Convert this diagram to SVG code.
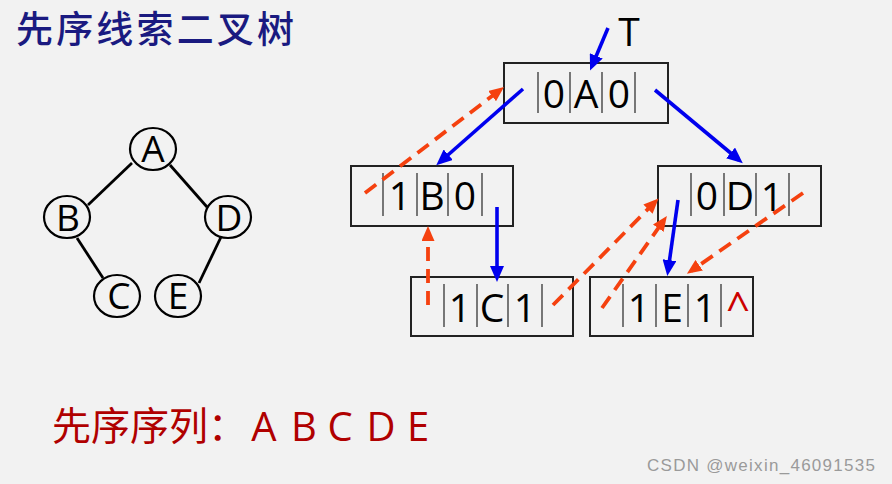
<svg xmlns="http://www.w3.org/2000/svg" width="892" height="484" viewBox="0 0 892 484">
<style>
.cjk{font-family:"Noto Sans CJK SC","Noto Sans",sans-serif}
.lat{font-family:"Open Sans","Noto Sans","DejaVu Sans",sans-serif}
.circ{fill:none;stroke:#000;stroke-width:2.2}
.edge{stroke:#000;stroke-width:2.8;fill:none}
.tl{font-size:37px;fill:#000;text-anchor:middle}
.box{fill:none;stroke:#222;stroke-width:2}
.bar{stroke:#333;stroke-width:1.3}
.bt{font-size:39px;fill:#000;text-anchor:middle}
.blue{stroke:#0000ee;stroke-width:3.6;fill:none;marker-end:url(#ab)}
.red{stroke:#f5410f;stroke-width:3.8;fill:none;stroke-dasharray:14 8;marker-end:url(#ar)}
</style>
<defs>
<marker id="ab" markerUnits="userSpaceOnUse" markerWidth="16" markerHeight="14" refX="11" refY="7" orient="auto"><path d="M0,0 L16,7 L0,14 z" fill="#0000ee"/></marker>
<marker id="ar" markerUnits="userSpaceOnUse" markerWidth="15" markerHeight="13" refX="10" refY="6.5" orient="auto"><path d="M0,0 L15,6.5 L0,13 z" fill="#f5410f"/></marker>
</defs>
<rect width="892" height="484" fill="#f2f2f2"/>
<text class="cjk" x="16" y="43" font-size="37" font-weight="500" fill="#1a1a80" textLength="278">先序线索二叉树</text>

<g id="tree">
<g id="tree-edges">
<line class="edge" x1="132" y1="163" x2="88" y2="205"/>
<line class="edge" x1="170" y1="165" x2="207" y2="207"/>
<line class="edge" x1="77" y1="238" x2="103" y2="278"/>
<line class="edge" x1="221" y1="237" x2="199" y2="283"/>
</g>
<g id="tA"><ellipse class="circ" cx="153" cy="149" rx="23" ry="21"/><text class="lat tl" x="153" y="162">A</text></g>
<g id="tB"><ellipse class="circ" cx="67" cy="217" rx="23" ry="21"/><text class="lat tl" x="68" y="231">B</text></g>
<g id="tD"><ellipse class="circ" cx="228" cy="217" rx="23" ry="21"/><text class="lat tl" x="229" y="231">D</text></g>
<g id="tC"><ellipse class="circ" cx="117" cy="296" rx="23" ry="21"/><text class="lat tl" x="119" y="309">C</text></g>
<g id="tE"><ellipse class="circ" cx="178" cy="296" rx="23" ry="21"/><text class="lat tl" x="178" y="309">E</text></g>
</g>

<text class="lat" x="629" y="46" font-size="39" text-anchor="middle" fill="#000">T</text>

<g id="nA">
<rect class="box" x="504" y="63" width="164" height="60"/>
<line class="bar" x1="538" y1="72" x2="538" y2="113"/><line class="bar" x1="570" y1="72" x2="570" y2="113"/><line class="bar" x1="602" y1="72" x2="602" y2="113"/><line class="bar" x1="635" y1="72" x2="635" y2="113"/>
<text class="lat bt" x="554" y="108">0</text><text class="lat bt" x="586" y="108">A</text><text class="lat bt" x="619" y="108">0</text>
</g>
<g id="nB">
<rect class="box" x="351" y="166" width="162" height="60"/>
<line class="bar" x1="383" y1="173" x2="383" y2="216"/><line class="bar" x1="417" y1="173" x2="417" y2="216"/><line class="bar" x1="448" y1="173" x2="448" y2="216"/><line class="bar" x1="482" y1="173" x2="482" y2="216"/>
<text class="lat bt" x="400" y="210">1</text><text class="lat bt" x="432" y="210">B</text><text class="lat bt" x="465" y="210">0</text>
</g>
<g id="nD">
<rect class="box" x="658" y="166" width="163" height="60"/>
<line class="bar" x1="691" y1="173" x2="691" y2="216"/><line class="bar" x1="724" y1="173" x2="724" y2="216"/><line class="bar" x1="756" y1="173" x2="756" y2="216"/><line class="bar" x1="789" y1="173" x2="789" y2="216"/>
<text class="lat bt" x="707" y="210">0</text><text class="lat bt" x="740" y="210">D</text><text class="lat bt" x="772" y="211">1</text>
</g>
<g id="nC">
<rect class="box" x="411" y="277" width="162" height="59"/>
<line class="bar" x1="444" y1="284" x2="444" y2="327"/><line class="bar" x1="477" y1="284" x2="477" y2="327"/><line class="bar" x1="508" y1="284" x2="508" y2="327"/><line class="bar" x1="542" y1="284" x2="542" y2="327"/>
<text class="lat bt" x="460" y="322">1</text><text class="lat bt" x="492" y="322">C</text><text class="lat bt" x="525" y="322">1</text>
</g>
<g id="nE">
<rect class="box" x="590" y="277" width="163" height="59"/>
<line class="bar" x1="623" y1="284" x2="623" y2="327"/><line class="bar" x1="656" y1="284" x2="656" y2="327"/><line class="bar" x1="688" y1="284" x2="688" y2="327"/><line class="bar" x1="721" y1="284" x2="721" y2="327"/>
<text class="lat bt" x="639" y="322">1</text><text class="lat bt" x="672" y="322">E</text><text class="lat bt" x="705" y="322">1</text>
<text class="lat" x="738" y="322" font-size="42" fill="#cc0000" text-anchor="middle">^</text>
</g>

<g id="connectors">
<line class="blue" x1="608" y1="28" x2="592" y2="66"/>
<line class="blue" x1="523" y1="89" x2="440" y2="162"/>
<line class="blue" x1="655" y1="90" x2="739" y2="160"/>
<line class="blue" x1="497" y1="207" x2="497" y2="277"/>
<line class="blue" x1="678" y1="200" x2="668" y2="271"/>
<line class="red" x1="365" y1="193" x2="500" y2="90"/>
<line class="red" x1="428" y1="305" x2="428" y2="231"/>
<line class="red" x1="553" y1="305" x2="655" y2="202"/>
<line class="red" x1="602" y1="308" x2="664" y2="220"/>
<line class="red" x1="803" y1="193" x2="691" y2="271"/>
</g>

<text class="cjk" x="52" y="440" font-size="39" fill="#b00000">先序序列：</text>
<g class="lat" font-size="40" fill="#b00000" text-anchor="middle">
<text x="264" y="441">A</text><text x="304" y="441">B</text><text x="340" y="441">C</text><text x="381" y="441">D</text><text x="418" y="441">E</text>
</g>
<text x="647" y="471" font-family="Liberation Sans, Arial, sans-serif" font-size="17" fill="#9a9a9a" textLength="228">CSDN @weixin_46091535</text>
</svg>
